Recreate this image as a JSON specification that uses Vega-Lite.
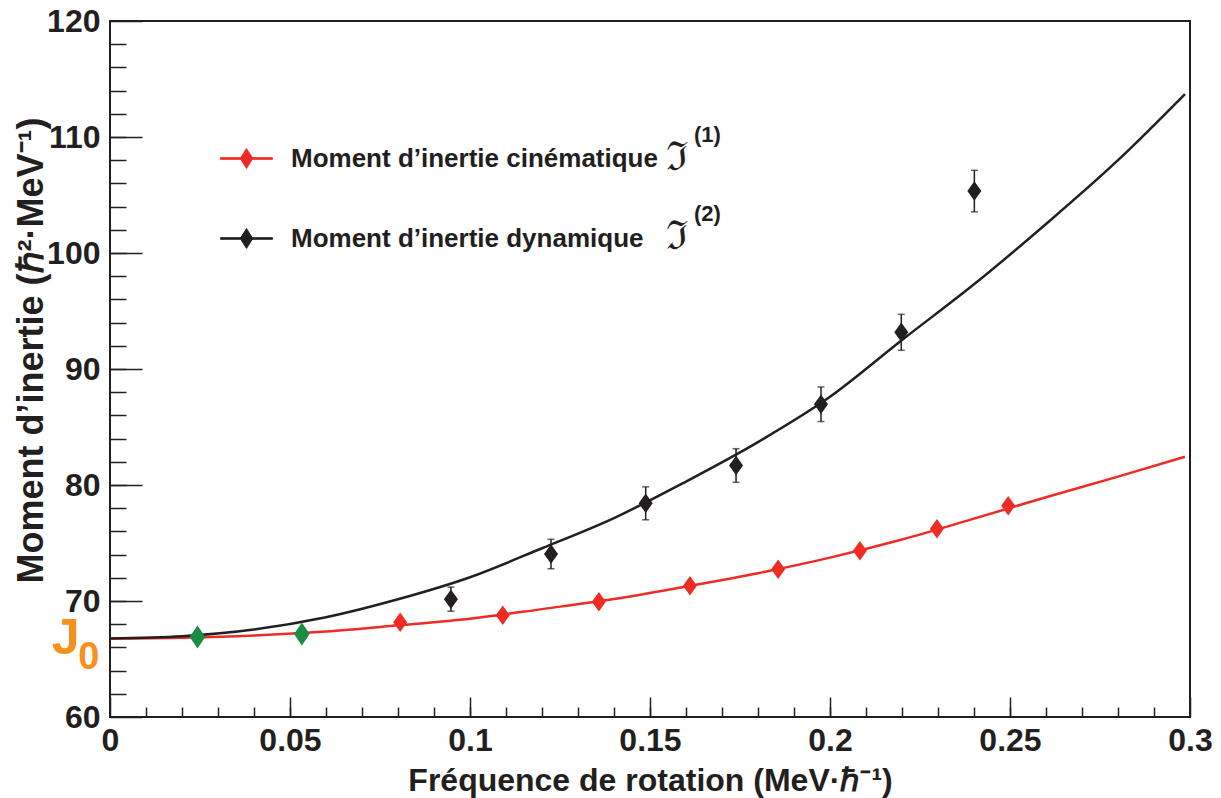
{
  "$schema": "https://vega.github.io/schema/vega-lite/v6.json",
  "width": 1080,
  "height": 696,
  "autosize": {"type": "none"},
  "padding": {"left": 110, "top": 21, "right": 31, "bottom": 81},
  "background": "white",
  "config": {
    "view": {"stroke": "#231f20", "strokeWidth": 2},
    "axis": {
      "domain": false, "grid": false,
      "labelFont": "Liberation Sans", "labelFontWeight": "bold",
      "titleFont": "Liberation Sans", "titleFontWeight": "bold",
      "labelColor": "#231f20", "titleColor": "#231f20",
      "tickColor": "#231f20", "tickWidth": 1.5,
      "labelFlush": false, "labelOverlap": false, "labelBound": false
    }
  },
  "datasets": {
    "curves": [
      {"w": 0, "J": 66.77, "s": "cin"}, {"w": 0.02, "J": 66.84, "s": "cin"}, {"w": 0.04, "J": 67.03, "s": "cin"},
      {"w": 0.06, "J": 67.37, "s": "cin"}, {"w": 0.08, "J": 67.9, "s": "cin"}, {"w": 0.1, "J": 68.47, "s": "cin"},
      {"w": 0.12, "J": 69.3, "s": "cin"}, {"w": 0.14, "J": 70.17, "s": "cin"}, {"w": 0.16, "J": 71.25, "s": "cin"},
      {"w": 0.18, "J": 72.4, "s": "cin"}, {"w": 0.2, "J": 73.74, "s": "cin"}, {"w": 0.22, "J": 75.3, "s": "cin"},
      {"w": 0.24, "J": 77.1, "s": "cin"}, {"w": 0.26, "J": 78.95, "s": "cin"}, {"w": 0.28, "J": 80.72, "s": "cin"},
      {"w": 0.2986, "J": 82.44, "s": "cin"},
      {"w": 0, "J": 66.77, "s": "dyn"}, {"w": 0.02, "J": 66.97, "s": "dyn"}, {"w": 0.04, "J": 67.55, "s": "dyn"},
      {"w": 0.06, "J": 68.6, "s": "dyn"}, {"w": 0.08, "J": 70.15, "s": "dyn"}, {"w": 0.1, "J": 72.05, "s": "dyn"},
      {"w": 0.12, "J": 74.55, "s": "dyn"}, {"w": 0.14, "J": 77.15, "s": "dyn"}, {"w": 0.16, "J": 80.3, "s": "dyn"},
      {"w": 0.18, "J": 83.7, "s": "dyn"}, {"w": 0.2, "J": 87.6, "s": "dyn"}, {"w": 0.22, "J": 92.5, "s": "dyn"},
      {"w": 0.24, "J": 97.3, "s": "dyn"}, {"w": 0.26, "J": 102.5, "s": "dyn"}, {"w": 0.28, "J": 108.0, "s": "dyn"},
      {"w": 0.2986, "J": 113.7, "s": "dyn"}
    ],
    "green": [
      {"w": 0.0243, "J": 66.9},
      {"w": 0.0533, "J": 67.15}
    ],
    "red": [
      {"w": 0.0806, "J": 68.16, "s": "cin", "n": "(1)"}, {"w": 0.1091, "J": 68.77, "s": "cin", "n": "(1)"},
      {"w": 0.1358, "J": 69.93, "s": "cin", "n": "(1)"}, {"w": 0.1611, "J": 71.32, "s": "cin", "n": "(1)"},
      {"w": 0.1856, "J": 72.73, "s": "cin", "n": "(1)"}, {"w": 0.2083, "J": 74.34, "s": "cin", "n": "(1)"},
      {"w": 0.2297, "J": 76.23, "s": "cin", "n": "(1)"}, {"w": 0.2495, "J": 78.22, "s": "cin", "n": "(1)"}
    ],
    "black": [
      {"w": 0.0947, "J": 70.16, "lo": 69.12, "hi": 71.2, "s": "dyn", "n": "(2)"},
      {"w": 0.1225, "J": 74.05, "lo": 72.78, "hi": 75.32, "s": "dyn", "n": "(2)"},
      {"w": 0.1488, "J": 78.42, "lo": 77.0, "hi": 79.84, "s": "dyn", "n": "(2)"},
      {"w": 0.1739, "J": 81.68, "lo": 80.23, "hi": 83.13, "s": "dyn", "n": "(2)"},
      {"w": 0.1975, "J": 86.96, "lo": 85.47, "hi": 88.45, "s": "dyn", "n": "(2)"},
      {"w": 0.2198, "J": 93.16, "lo": 91.61, "hi": 94.71, "s": "dyn", "n": "(2)"},
      {"w": 0.2401, "J": 105.34, "lo": 103.55, "hi": 107.13, "s": "dyn", "n": "(2)"}
    ]
  },
  "layer": [
    {
      "data": {"name": "curves"},
      "mark": {"type": "line", "strokeWidth": 2.5, "interpolate": "monotone"},
      "encoding": {
        "x": {
          "field": "w", "type": "quantitative",
          "scale": {"domain": [0, 0.3], "nice": false, "zero": false},
          "axis": {
            "orient": "bottom",
            "values": [0, 0.05, 0.1, 0.15, 0.2, 0.25, 0.3],
            "format": ".2~f",
            "tickSize": -20, "labelPadding": 28, "labelFontSize": 32,
            "title": "Fréquence de rotation (MeV·ℏ⁻¹)",
            "titleFontSize": 32, "titleY": 73, "titleBaseline": "alphabetic"
          }
        },
        "y": {
          "field": "J", "type": "quantitative",
          "scale": {"domain": [60, 120], "nice": false, "zero": false},
          "axis": {
            "orient": "left",
            "values": [60, 70, 80, 90, 100, 110, 120],
            "tickSize": -32, "labelPadding": 42, "labelFontSize": 32,
            "title": "Moment d’inertie (ℏ²·MeV⁻¹)",
            "titleFontSize": 36, "titleX": -68, "titleY": 329, "titleAngle": -90,
            "titleBaseline": "alphabetic", "titleAlign": "center"
          }
        },
        "stroke": {
          "field": "s", "type": "nominal",
          "scale": {"domain": ["cin", "dyn"], "range": ["#ee2b24", "#231f20"]},
          "legend": {
            "orient": "none", "legendX": 110, "legendY": 111, "title": null,
            "symbolType": "M-1,-0.03H1V0.03H-1Z M0,-0.38L0.24,0L0,0.38L-0.24,0Z",
            "symbolSize": 2704, "symbolStrokeWidth": 1,
            "labelFont": "Liberation Sans", "labelFontWeight": "bold", "labelFontSize": 26,
            "labelColor": "#231f20", "labelOffset": 18, "rowPadding": 40, "padding": 0,
            "labelLimit": 800,
            "labelExpr": "datum.value == 'cin' ? 'Moment d’inertie cinématique' : 'Moment d’inertie dynamique'",
            "encode": {"symbols": {"update": {"fill": {"scale": "stroke", "field": "value"}}}}
          }
        }
      }
    },
    {
      "data": {"name": "green"},
      "mark": {"type": "point", "shape": "M0,-1L0.68,0L0,1L-0.68,0Z", "filled": true, "size": 529, "color": "#1b8c43", "opacity": 1, "strokeWidth": 0},
      "encoding": {
        "x": {
          "field": "w", "type": "quantitative",
          "axis": {
            "orient": "bottom",
            "values": [0.01, 0.02, 0.03, 0.04, 0.05, 0.06, 0.07, 0.08, 0.09, 0.1, 0.11, 0.12, 0.13, 0.14, 0.15, 0.16, 0.17, 0.18, 0.19, 0.2, 0.21, 0.22, 0.23, 0.24, 0.25, 0.26, 0.27, 0.28, 0.29],
            "tickSize": -10, "labels": false, "title": null
          }
        },
        "y": {
          "field": "J", "type": "quantitative",
          "axis": {
            "orient": "left",
            "values": [62, 64, 66, 68, 70, 72, 74, 76, 78, 80, 82, 84, 86, 88, 90, 92, 94, 96, 98, 100, 102, 104, 106, 108, 110, 112, 114, 116, 118],
            "tickSize": -16, "labels": false, "title": null
          }
        }
      }
    },
    {
      "data": {"name": "black"},
      "mark": {"type": "errorbar", "ticks": true, "size": 7, "thickness": 1.5, "color": "#231f20"},
      "encoding": {
        "x": {"field": "w", "type": "quantitative", "axis": null},
        "y": {"field": "lo", "type": "quantitative", "axis": null},
        "y2": {"field": "hi"}
      }
    },
    {
      "data": {"name": "red"},
      "mark": {"type": "point", "filled": true, "size": 380, "opacity": 1, "strokeWidth": 0},
      "encoding": {
        "x": {"field": "w", "type": "quantitative", "axis": null},
        "y": {
          "field": "J", "type": "quantitative",
          "axis": {
            "orient": "left", "values": [66.77], "ticks": false,
            "labelExpr": "'J'", "labelColor": "#f7901e", "labelFontSize": 50,
            "labelPadding": 31, "title": null
          }
        },
        "shape": {
          "field": "s", "type": "nominal",
          "scale": {"range": ["M0,-1L0.72,0L0,1L-0.72,0Z", "M0,-1L0.72,0L0,1L-0.72,0Z"]},
          "legend": {
            "orient": "none", "legendX": 516, "legendY": 117, "title": null,
            "symbolSize": 0, "symbolOpacity": 0, "symbolStrokeWidth": 0,
            "labelFont": "DejaVu Serif", "labelFontSize": 40, "labelColor": "#231f20",
            "labelOffset": 0, "rowPadding": 39, "padding": 0,
            "labelExpr": "'ℑ'"
          }
        },
        "fill": {
          "field": "n", "type": "nominal",
          "scale": {"range": ["#ee2b24", "#231f20"]},
          "legend": {
            "orient": "none", "legendX": 562, "legendY": 103, "title": null,
            "symbolSize": 0, "symbolOpacity": 0, "symbolStrokeWidth": 0,
            "labelFont": "Liberation Sans", "labelFontWeight": "bold", "labelFontSize": 22, "labelColor": "#231f20",
            "labelOffset": 0, "rowPadding": 57, "padding": 0
          }
        }
      }
    },
    {
      "data": {"name": "black"},
      "mark": {"type": "point", "filled": true, "size": 380, "opacity": 1, "strokeWidth": 0},
      "encoding": {
        "x": {"field": "w", "type": "quantitative", "axis": null},
        "y": {
          "field": "J", "type": "quantitative",
          "axis": {
            "orient": "left", "values": [66.77], "ticks": false,
            "labelExpr": "'0'", "labelColor": "#f7901e", "labelFontSize": 38,
            "labelPadding": 11, "labelOffset": 19, "title": null
          }
        },
        "shape": {"field": "s", "type": "nominal"},
        "fill": {"field": "n", "type": "nominal"}
      }
    }
  ],
  "resolve": {"axis": {"x": "independent", "y": "independent"}}
}
